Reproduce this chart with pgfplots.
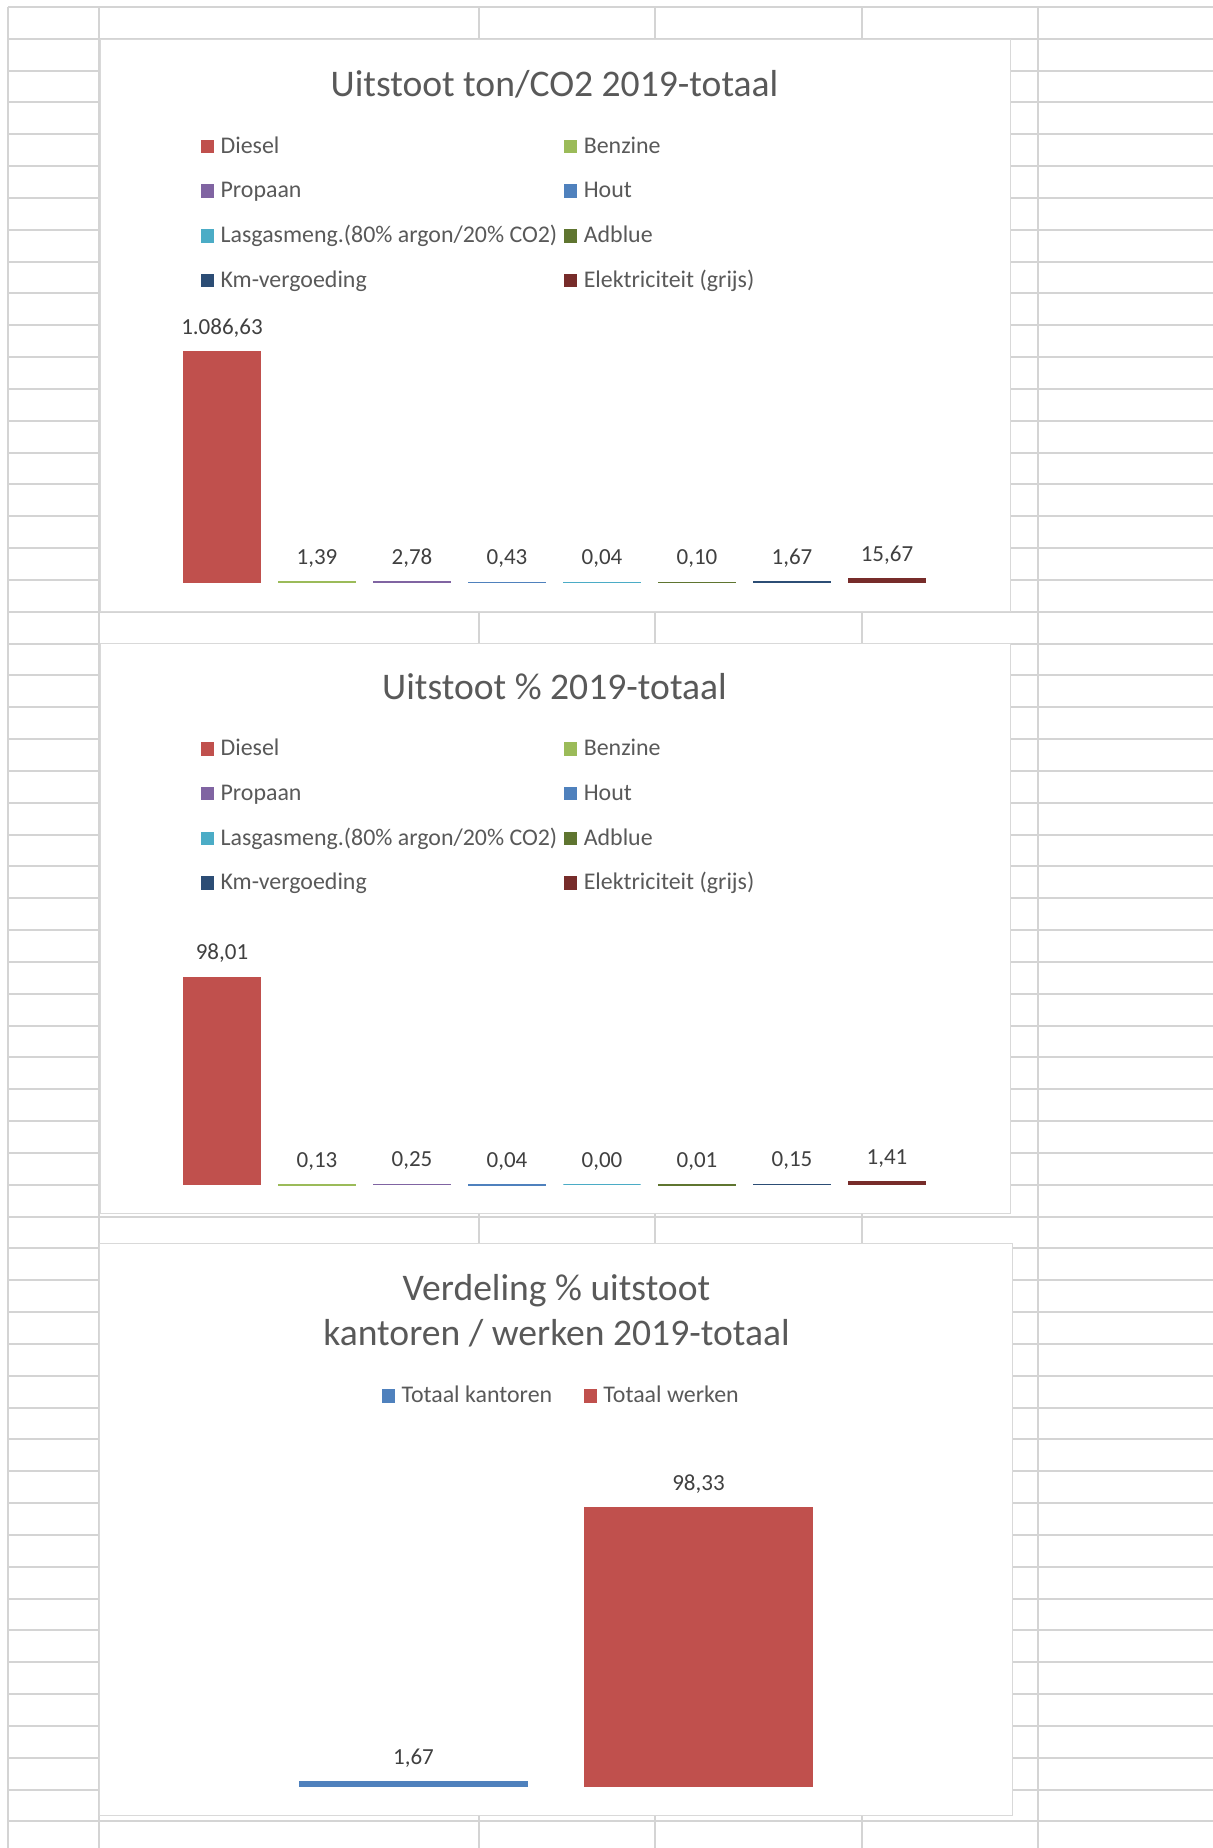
\documentclass[border=0pt]{standalone}
\usepackage{pgfplots}
\pgfplotsset{compat=1.18}
\usepackage{fontspec}
\setmainfont{Carlito}
\definecolor{gridgray}{HTML}{D4D4D4}
\definecolor{boxgray}{HTML}{D9D9D9}
\definecolor{titlegray}{HTML}{595959}
\definecolor{labelgray}{HTML}{404040}
\definecolor{cDiesel}{HTML}{C0504D}
\definecolor{cBenzine}{HTML}{9BBB59}
\definecolor{cPropaan}{HTML}{8064A2}
\definecolor{cHout}{HTML}{4F81BD}
\definecolor{cLas}{HTML}{4BACC6}
\definecolor{cAdblue}{HTML}{5F7530}
\definecolor{cKm}{HTML}{2C4D75}
\definecolor{cElek}{HTML}{772C2A}
\newcommand\titlefont{\fontsize{18.8}{22}\selectfont}
\newcommand\legfont{\fontsize{11.95}{14}\selectfont}
\newcommand\lblfont{\fontsize{11.5}{14}\selectfont}
\pgfplotsset{
  excel/.style={
    scale only axis, hide axis, clip=false, enlargelimits=false, ymin=0,
    ybar, bar shift=0pt,
    /pgf/number format/assume math mode=true,
    nodes near coords={\pgfmathprintnumber[fixed,fixed zerofill,precision=2,use comma]{\pgfplotspointmeta}},
    every node near coord/.append style={font=\lblfont, text=labelgray, anchor=base, inner sep=0pt, yshift=8.75pt},
    legend image code/.code={\path[##1,draw=none] (0pt,0pt) rectangle (6.3pt,6.8pt);},
    legend style={draw=none, fill=none, inner sep=0pt, outer sep=0pt, font=\legfont,
       nodes={inner sep=0pt, text height=8.5pt, text depth=3pt, text=titlegray},
       cells={anchor=base west}, column sep=3.5pt, row sep=10.83pt},
  },
  sbar/.style={fill=#1, draw=#1, line width=0.6pt, bar shift=0pt},
}
\begin{document}
\begin{tikzpicture}
\begin{scope}[x=0.5pt,y=-0.5pt]
\useasboundingbox (0,0) rectangle (1213,1848);
\foreach \k in {0,...,57} {\draw[gridgray, line width=1pt] (8,{7+31.83*\k}) -- (1213,{7+31.83*\k});}
\foreach \xx in {8,99,479,655,862,1038} {\draw[gridgray, line width=1pt] (\xx,7) -- (\xx,1848);}
\filldraw[fill=white, draw=boxgray, line width=0.5pt] (100,39) rectangle (1010,611);
\filldraw[fill=white, draw=boxgray, line width=0.5pt] (100,643) rectangle (1010,1213);
\filldraw[fill=white, draw=boxgray, line width=0.5pt] (99,1243) rectangle (1012,1815);
\node[anchor=base, font=\titlefont, text=titlegray, inner sep=0pt] at (554.5,96.7) {Uitstoot ton/CO2 2019-totaal};
\node[anchor=base, font=\titlefont, text=titlegray, inner sep=0pt] at (554.5,699.2) {Uitstoot \% 2019-totaal};
\node[anchor=base, font=\titlefont, text=titlegray, inner sep=0pt] at (556.5,1300) {Verdeling \% uitstoot};
\node[anchor=base, font=\titlefont, text=titlegray, inner sep=0pt] at (556.5,1345.7) {kantoren / werken 2019-totaal};
\end{scope}

% Chart 1
\begin{axis}[excel, at={(87.25pt,-291.15pt)}, anchor=south west,
  width=380pt, height=127.15pt, xmin=-0.5, xmax=7.5, ymax=1200,
  bar width=38.6pt, legend columns=2,
  legend style={at={(axis description cs:0.0349,1.7538)}, anchor=north west}]
\addplot[sbar=cDiesel] coordinates {(0,1086.63)}; \addlegendentry{Diesel}
\addplot[sbar=cBenzine] coordinates {(1,1.39)}; \addlegendentry{Benzine}
\addplot[sbar=cPropaan] coordinates {(2,2.78)}; \addlegendentry{Propaan}
\addplot[sbar=cHout] coordinates {(3,0.43)}; \addlegendentry{Hout}
\addplot[sbar=cLas] coordinates {(4,0.04)}; \addlegendentry{Lasgasmeng.(80\% argon/20\% CO2)}
\addplot[sbar=cAdblue] coordinates {(5,0.10)}; \addlegendentry{Adblue}
\addplot[sbar=cKm] coordinates {(6,1.67)}; \addlegendentry{Km-vergoeding}
\addplot[sbar=cElek] coordinates {(7,15.67)}; \addlegendentry{Elektriciteit (grijs)}
\end{axis}

% Chart 2
\begin{axis}[excel, at={(87.25pt,-592.4pt)}, anchor=south west,
  width=380pt, height=127.15pt, xmin=-0.5, xmax=7.5, ymax=120,
  bar width=38.6pt, legend columns=2,
  legend style={at={(axis description cs:0.0349,1.7538)}, anchor=north west}]
\addplot[sbar=cDiesel] coordinates {(0,98.01)}; \addlegendentry{Diesel}
\addplot[sbar=cBenzine] coordinates {(1,0.13)}; \addlegendentry{Benzine}
\addplot[sbar=cPropaan] coordinates {(2,0.25)}; \addlegendentry{Propaan}
\addplot[sbar=cHout] coordinates {(3,0.04)}; \addlegendentry{Hout}
\addplot[sbar=cLas] coordinates {(4,0.00)}; \addlegendentry{Lasgasmeng.(80\% argon/20\% CO2)}
\addplot[sbar=cAdblue] coordinates {(5,0.01)}; \addlegendentry{Adblue}
\addplot[sbar=cKm] coordinates {(6,0.15)}; \addlegendentry{Km-vergoeding}
\addplot[sbar=cElek] coordinates {(7,1.41)}; \addlegendentry{Elektriciteit (grijs)}
\end{axis}

% Chart 3
\begin{axis}[excel, at={(135.5pt,-893.25pt)}, anchor=south west,
  width=285pt, height=170pt, xmin=-0.5, xmax=1.5, ymax=120,
  bar width=113.5pt, legend columns=2,
  every node near coord/.append style={yshift=-0.25pt},
  legend style={at={(axis description cs:0.1953,1.1788)}, anchor=north west,
    column sep=3.3pt, /tikz/every even column/.append style={column sep=16pt}}]
\addplot[sbar=cHout] coordinates {(0,1.67)}; \addlegendentry{Totaal kantoren}
\addplot[sbar=cDiesel] coordinates {(1,98.33)}; \addlegendentry{Totaal werken}
\end{axis}
\end{tikzpicture}
\end{document}
